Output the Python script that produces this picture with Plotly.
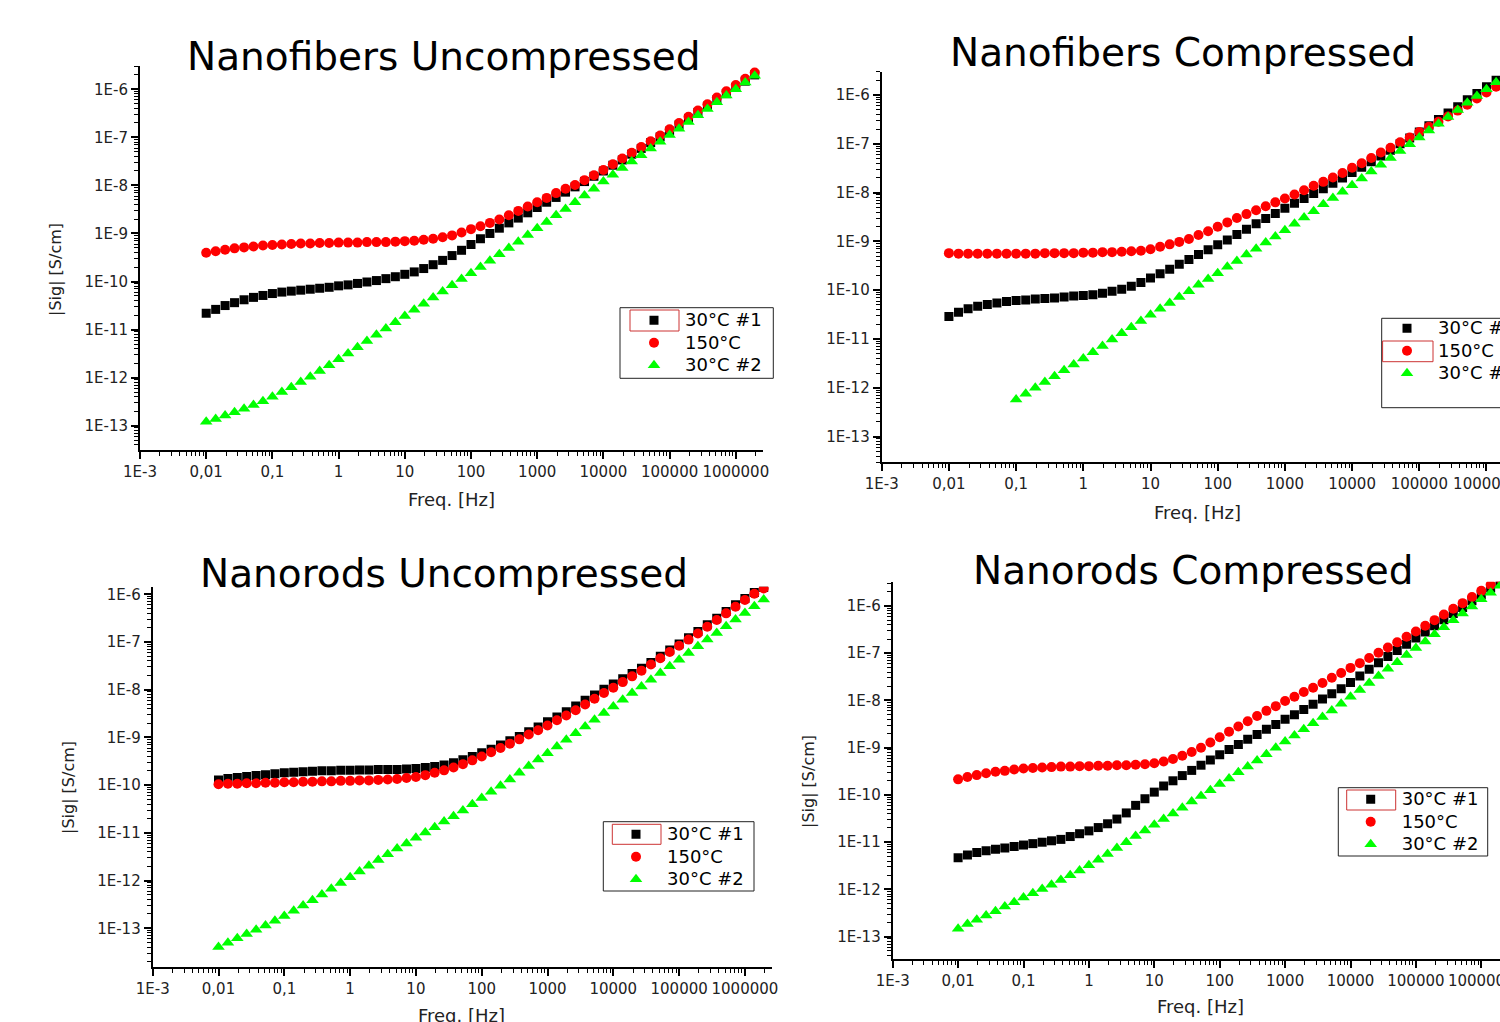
import plotly.graph_objects as go

# ---------------------------------------------------------------- data
# Measurement frequencies [Hz]
FREQ_HZ = [0.01, 0.0139, 0.0193, 0.0268, 0.0373, 0.0518, 0.072,
           0.1, 0.139, 0.193, 0.268, 0.373, 0.518, 0.72,
           1, 1.39, 1.93, 2.68, 3.73, 5.18, 7.2,
           10, 13.9, 19.3, 26.8, 37.3, 51.8, 72,
           100, 139, 193, 268, 373, 518, 720,
           1000, 1390, 1930, 2680, 3730, 5180, 7200,
           1e4, 1.39e4, 1.93e4, 2.68e4, 3.73e4, 5.18e4, 7.2e4,
           1e5, 1.39e5, 1.93e5, 2.68e5, 3.73e5, 5.18e5, 7.2e5,
           1e6, 1.39e6, 1.93e6]
FREQ_HZ_FROM_01 = FREQ_HZ[7:]   # series that start at 0.1 Hz

# log10(|Sig| in S/cm)
NF_UNC_30C1 = [-10.66, -10.58, -10.50, -10.44, -10.38, -10.33, -10.29,
               -10.25, -10.22, -10.20, -10.18, -10.16, -10.14, -10.12,
               -10.09, -10.07, -10.04, -10.01, -9.98, -9.94, -9.90,
               -9.85, -9.80, -9.73, -9.65, -9.56, -9.46, -9.35,
               -9.23, -9.11, -9.00, -8.89, -8.78, -8.68, -8.57,
               -8.46, -8.35, -8.25, -8.14, -8.03, -7.92, -7.81,
               -7.70, -7.58, -7.47, -7.35, -7.23, -7.11, -6.99,
               -6.87, -6.74, -6.61, -6.48, -6.35, -6.22, -6.09,
               -5.96, -5.83, -5.70]
NF_UNC_150C = [-9.40, -9.37, -9.34, -9.31, -9.29, -9.27, -9.25,
               -9.24, -9.23, -9.22, -9.21, -9.21, -9.20, -9.20,
               -9.19, -9.19, -9.19, -9.18, -9.18, -9.18, -9.17,
               -9.16, -9.15, -9.13, -9.11, -9.08, -9.04, -8.98,
               -8.91, -8.85, -8.78, -8.71, -8.62, -8.53, -8.44,
               -8.35, -8.26, -8.16, -8.07, -7.99, -7.89, -7.79,
               -7.68, -7.56, -7.44, -7.32, -7.20, -7.08, -6.96,
               -6.83, -6.70, -6.57, -6.44, -6.31, -6.17, -6.04,
               -5.91, -5.78, -5.65]
NF_UNC_30C2 = [-12.92, -12.86, -12.79, -12.72, -12.65, -12.57, -12.49,
               -12.40, -12.30, -12.20, -12.09, -11.98, -11.86, -11.74,
               -11.62, -11.50, -11.37, -11.24, -11.11, -10.98, -10.85,
               -10.72, -10.59, -10.46, -10.33, -10.21, -10.08, -9.95,
               -9.83, -9.70, -9.57, -9.43, -9.30, -9.17, -9.03,
               -8.89, -8.76, -8.62, -8.49, -8.35, -8.21, -8.07,
               -7.92, -7.78, -7.64, -7.50, -7.37, -7.23, -7.09,
               -6.95, -6.82, -6.68, -6.54, -6.41, -6.27, -6.13,
               -6.00, -5.86, -5.72]

NF_CMP_30C1 = [-10.54, -10.45, -10.38, -10.33, -10.29, -10.26, -10.23,
               -10.21, -10.20, -10.18, -10.17, -10.16, -10.14, -10.12,
               -10.11, -10.09, -10.06, -10.02, -9.98, -9.92, -9.84,
               -9.75, -9.66, -9.57, -9.47, -9.37, -9.27, -9.17,
               -9.07, -8.97, -8.86, -8.75, -8.64, -8.53, -8.43,
               -8.32, -8.22, -8.12, -8.02, -7.92, -7.81, -7.70,
               -7.59, -7.48, -7.37, -7.25, -7.13, -7.00, -6.88,
               -6.76, -6.63, -6.50, -6.37, -6.24, -6.10, -5.97,
               -5.83, -5.70, -5.57]
NF_CMP_150C = [-9.24, -9.25, -9.25, -9.25, -9.25, -9.25, -9.25,
               -9.25, -9.25, -9.25, -9.24, -9.24, -9.24, -9.24,
               -9.23, -9.23, -9.22, -9.22, -9.21, -9.20, -9.19,
               -9.16, -9.11, -9.06, -9.01, -8.95, -8.87, -8.79,
               -8.70, -8.61, -8.52, -8.44, -8.36, -8.28, -8.20,
               -8.12, -8.04, -7.95, -7.86, -7.78, -7.69, -7.60,
               -7.49, -7.40, -7.29, -7.18, -7.08, -6.97, -6.87,
               -6.76, -6.65, -6.55, -6.44, -6.32, -6.20, -6.07,
               -5.95, -5.83, -5.71]
NF_CMP_30C2 = [-12.24, -12.12, -12.00, -11.88, -11.76, -11.64, -11.52,
               -11.40, -11.27, -11.14, -11.01, -10.88, -10.76, -10.63,
               -10.50, -10.38, -10.26, -10.14, -10.02, -9.89, -9.77,
               -9.65, -9.52, -9.40, -9.27, -9.15, -9.02, -8.90,
               -8.77, -8.64, -8.51, -8.38, -8.24, -8.11, -7.98,
               -7.85, -7.71, -7.57, -7.43, -7.29, -7.15, -7.01,
               -6.87, -6.73, -6.59, -6.45, -6.31, -6.16, -6.02,
               -5.88, -5.74, -5.60]

NR_UNC_30C1 = [-9.89, -9.86, -9.84, -9.82, -9.80, -9.78, -9.76,
               -9.74, -9.73, -9.72, -9.71, -9.70, -9.70, -9.69,
               -9.69, -9.68, -9.68, -9.67, -9.67, -9.67, -9.66,
               -9.65, -9.63, -9.61, -9.58, -9.53, -9.47, -9.40,
               -9.32, -9.25, -9.16, -9.07, -8.98, -8.88, -8.78,
               -8.67, -8.57, -8.46, -8.34, -8.22, -8.11, -7.99,
               -7.88, -7.77, -7.66, -7.55, -7.43, -7.30, -7.17,
               -7.04, -6.91, -6.78, -6.64, -6.50, -6.36, -6.22,
               -6.09, -5.96, -5.86]
NR_UNC_150C = [-9.98, -9.97, -9.97, -9.96, -9.96, -9.95, -9.95,
               -9.94, -9.94, -9.93, -9.93, -9.92, -9.92, -9.91,
               -9.91, -9.90, -9.90, -9.89, -9.88, -9.87, -9.85,
               -9.83, -9.79, -9.74, -9.69, -9.63, -9.56, -9.48,
               -9.40, -9.31, -9.22, -9.13, -9.04, -8.94, -8.85,
               -8.75, -8.64, -8.54, -8.43, -8.31, -8.19, -8.07,
               -7.96, -7.84, -7.72, -7.60, -7.47, -7.34, -7.21,
               -7.08, -6.95, -6.82, -6.68, -6.54, -6.40, -6.26,
               -6.12, -5.99, -5.88]
NR_UNC_30C2 = [-13.39, -13.30, -13.21, -13.12, -13.03, -12.94, -12.84,
               -12.74, -12.63, -12.52, -12.41, -12.29, -12.17, -12.05,
               -11.93, -11.81, -11.69, -11.57, -11.45, -11.33, -11.22,
               -11.10, -10.99, -10.88, -10.76, -10.65, -10.53, -10.40,
               -10.27, -10.14, -10.01, -9.88, -9.74, -9.60, -9.46,
               -9.33, -9.19, -9.05, -8.91, -8.77, -8.63, -8.49,
               -8.35, -8.21, -8.07, -7.93, -7.79, -7.65, -7.51,
               -7.37, -7.23, -7.09, -6.95, -6.81, -6.67, -6.53,
               -6.39, -6.25, -6.11]

NR_CMP_30C1 = [-11.33, -11.27, -11.22, -11.18, -11.15, -11.12, -11.09,
               -11.06, -11.03, -11.00, -10.97, -10.94, -10.88, -10.82,
               -10.76, -10.69, -10.61, -10.51, -10.38, -10.22, -10.08,
               -9.94, -9.81, -9.70, -9.59, -9.48, -9.37, -9.26,
               -9.15, -9.04, -8.93, -8.82, -8.72, -8.61, -8.51,
               -8.40, -8.30, -8.19, -8.08, -7.97, -7.86, -7.75,
               -7.62, -7.48, -7.34, -7.20, -7.07, -6.94, -6.81,
               -6.68, -6.55, -6.42, -6.29, -6.16, -6.03, -5.89,
               -5.76, -5.62, -5.49]
NR_CMP_150C = [-9.67, -9.62, -9.58, -9.54, -9.51, -9.49, -9.46,
               -9.44, -9.43, -9.42, -9.41, -9.40, -9.40, -9.39,
               -9.39, -9.38, -9.38, -9.37, -9.37, -9.36, -9.35,
               -9.33, -9.29, -9.24, -9.17, -9.09, -9.00, -8.89,
               -8.78, -8.66, -8.55, -8.44, -8.33, -8.22, -8.12,
               -8.01, -7.92, -7.82, -7.73, -7.63, -7.52, -7.42,
               -7.31, -7.21, -7.10, -6.99, -6.88, -6.77, -6.65,
               -6.54, -6.42, -6.30, -6.18, -6.06, -5.94, -5.81,
               -5.68, -5.55, -5.42]
NR_CMP_30C2 = [-12.83, -12.73, -12.64, -12.55, -12.46, -12.36, -12.27,
               -12.17, -12.08, -11.99, -11.90, -11.80, -11.70, -11.60,
               -11.49, -11.37, -11.25, -11.12, -11.00, -10.87, -10.75,
               -10.63, -10.51, -10.39, -10.27, -10.14, -10.02, -9.90,
               -9.77, -9.65, -9.52, -9.40, -9.27, -9.14, -9.00,
               -8.87, -8.74, -8.61, -8.48, -8.35, -8.21, -8.07,
               -7.92, -7.78, -7.63, -7.48, -7.33, -7.19, -7.04,
               -6.89, -6.75, -6.60, -6.45, -6.30, -6.16, -6.01,
               -5.86, -5.72, -5.57]

PANEL_TITLES = ["Nanofibers Uncompressed", "Nanofibers Compressed",
                "Nanorods Uncompressed", "Nanorods Compressed"]
SERIES_NAMES = ["30°C #1", "150°C", "30°C #2"]
X_TITLE = "Freq. [Hz]"
Y_TITLE = "|Sig| [S/cm]"

X_TICK_VALS = [1e-3, 1e-2, 1e-1, 1, 10, 100, 1e3, 1e4, 1e5, 1e6]
X_TICK_TEXT = ["1E-3", "0,01", "0,1", "1", "10", "100", "1000", "10000",
               "100000", "1000000"]
Y_TICK_VALS = [1e-13, 1e-12, 1e-11, 1e-10, 1e-9, 1e-8, 1e-7, 1e-6]
Y_TICK_TEXT = ["1E-13", "1E-12", "1E-11", "1E-10", "1E-9", "1E-8", "1E-7", "1E-6"]

PANEL_DATA = [
    [(FREQ_HZ, NF_UNC_30C1), (FREQ_HZ, NF_UNC_150C), (FREQ_HZ, NF_UNC_30C2)],
    [(FREQ_HZ, NF_CMP_30C1), (FREQ_HZ, NF_CMP_150C), (FREQ_HZ_FROM_01, NF_CMP_30C2)],
    [(FREQ_HZ, NR_UNC_30C1), (FREQ_HZ, NR_UNC_150C), (FREQ_HZ, NR_UNC_30C2)],
    [(FREQ_HZ, NR_CMP_30C1), (FREQ_HZ, NR_CMP_150C), (FREQ_HZ, NR_CMP_30C2)],
]

# ---------------------------------------------------------------- style / layout
W, H = 1500, 1022
FONT = "DejaVu Sans"
STYLES = [dict(symbol="square", size=9, color="#000000"),
          dict(symbol="circle", size=10, color="#ff0000"),
          dict(symbol="triangle-up", size=11, color="#00ff00")]

# pixel geometry of each panel
GEOM = [
    dict(x0=140, x1=763, y0=66, y1=450, xr=(-3, 6.411), yr=(-13.506, -5.515),
         title=(444, 57), xt=(451, 499), yt=(55, 270), leg=(623, 304),
         box=(620, 307.7, 773.3, 378.3), red=(630, 310, 679, 331)),
    dict(x0=881.7, x1=1500, y0=71.7, y1=462.3, xr=(-3, 6.201), yr=(-13.525, -5.523),
         title=(1183, 53), xt=(1197, 512), yt=None, leg=(1376, 312),
         box=(1381.7, 318.3, 1512, 407.7), red=(1382.6, 341, 1433, 361.7)),
    dict(x0=152.7, x1=771.7, y0=586.7, y1=967.3, xr=(-3, 6.407), yr=(-13.817, -5.841),
         title=(443.5, 573), xt=(461.5, 1015), yt=(68, 788), leg=(605, 818),
         box=(603.3, 821.7, 754, 891), red=(612.3, 824.3, 661, 844.3)),
    dict(x0=892.7, x1=1500, y0=581.7, y1=959, xr=(-3, 6.286), yr=(-13.472, -5.486),
         title=(1193, 570), xt=(1200, 1006), yt=(808, 781), leg=(1339.7, 783),
         box=(1338.3, 787.7, 1487.7, 856), red=(1346.7, 790, 1395.7, 810)),
]


def fx(p):
    return p / W


def fy(p):
    return 1 - p / H


X_MINOR = [m * 10.0 ** e for e in range(-3, 7) for m in range(2, 10)]
Y_MINOR = [m * 10.0 ** e for e in range(-14, -5) for m in range(2, 10)]

fig = go.Figure()
layout = dict(width=W, height=H, margin=dict(l=0, r=0, t=0, b=0, autoexpand=False),
              paper_bgcolor="white", plot_bgcolor="white", showlegend=True)
annotations = []
shapes = []

for i, (g, series) in enumerate(zip(GEOM, PANEL_DATA)):
    n = "" if i == 0 else str(i + 1)
    xa, ya = "x" + n, "y" + n
    leg_id = "legend" + n
    for s, ((fr, lsig), name) in enumerate(zip(series, SERIES_NAMES)):
        st = STYLES[s]
        fig.add_trace(go.Scatter(
            x=fr, y=[10.0 ** v for v in lsig], mode="markers",
            name="<span style='font-size:18px'>" + name + "</span>",
            xaxis=xa, yaxis=ya, legend=leg_id,
            marker=dict(symbol=st["symbol"], size=st["size"], color=st["color"],
                        line=dict(width=0)),
            hoverinfo="skip"))

    common = dict(type="log", showline=True, linecolor="black", linewidth=2,
                  showgrid=False, zeroline=False, ticks="outside", ticklen=7,
                  tickwidth=1.5, tickcolor="black", tickmode="array",
                  tickfont=dict(family=FONT, size=15, color="#222222"),
                  fixedrange=True, mirror=False)
    layout["xaxis" + n] = dict(
        common, domain=[fx(g["x0"]), fx(g["x1"])], range=list(g["xr"]), anchor=ya,
        tickvals=X_TICK_VALS, ticktext=X_TICK_TEXT, tickangle=0,
        ticklabeloverflow="allow",
        minor=dict(tickmode="array", tickvals=X_MINOR, ticks="outside", ticklen=4,
                   tickwidth=1, tickcolor="black", showgrid=False))
    layout["yaxis" + n] = dict(
        common, domain=[fy(g["y1"]), fy(g["y0"])], range=list(g["yr"]), anchor=xa,
        tickvals=Y_TICK_VALS, ticktext=Y_TICK_TEXT,
        minor=dict(tickmode="array", tickvals=Y_MINOR, ticks="outside", ticklen=4,
                   tickwidth=1, tickcolor="black", showgrid=False))

    layout[leg_id] = dict(x=fx(g["leg"][0]), y=fy(g["leg"][1]), xanchor="left",
                          yanchor="top", bgcolor="rgba(0,0,0,0)", borderwidth=0,
                          font=dict(family=FONT, size=15, color="black"),
                          itemwidth=52, tracegroupgap=0, itemclick=False,
                          itemdoubleclick=False)

    annotations.append(dict(text=PANEL_TITLES[i], x=fx(g["title"][0]), y=fy(g["title"][1]),
                            xref="paper", yref="paper", xanchor="center", yanchor="middle",
                            showarrow=False, font=dict(family=FONT, size=39, color="black")))
    annotations.append(dict(text=X_TITLE, x=fx(g["xt"][0]), y=fy(g["xt"][1]),
                            xref="paper", yref="paper", xanchor="center", yanchor="middle",
                            showarrow=False, font=dict(family=FONT, size=18, color="#222222")))
    if g["yt"] is not None:
        annotations.append(dict(text=Y_TITLE, x=fx(g["yt"][0]), y=fy(g["yt"][1]),
                                xref="paper", yref="paper", xanchor="center",
                                yanchor="middle", textangle=-90, showarrow=False,
                                font=dict(family=FONT, size=16, color="#222222")))

    bx = g["box"]
    shapes.append(dict(type="rect", xref="paper", yref="paper",
                       x0=fx(bx[0]), x1=fx(bx[2]), y0=fy(bx[3]), y1=fy(bx[1]),
                       line=dict(color="#222222", width=1), fillcolor="rgba(0,0,0,0)"))
    rr = g["red"]
    shapes.append(dict(type="rect", xref="paper", yref="paper",
                       x0=fx(rr[0]), x1=fx(rr[2]), y0=fy(rr[3]), y1=fy(rr[1]),
                       line=dict(color="#cc3333", width=1), fillcolor="rgba(0,0,0,0)"))

layout["annotations"] = annotations
layout["shapes"] = shapes
fig.update_layout(**layout)
fig.write_html("out.html")
